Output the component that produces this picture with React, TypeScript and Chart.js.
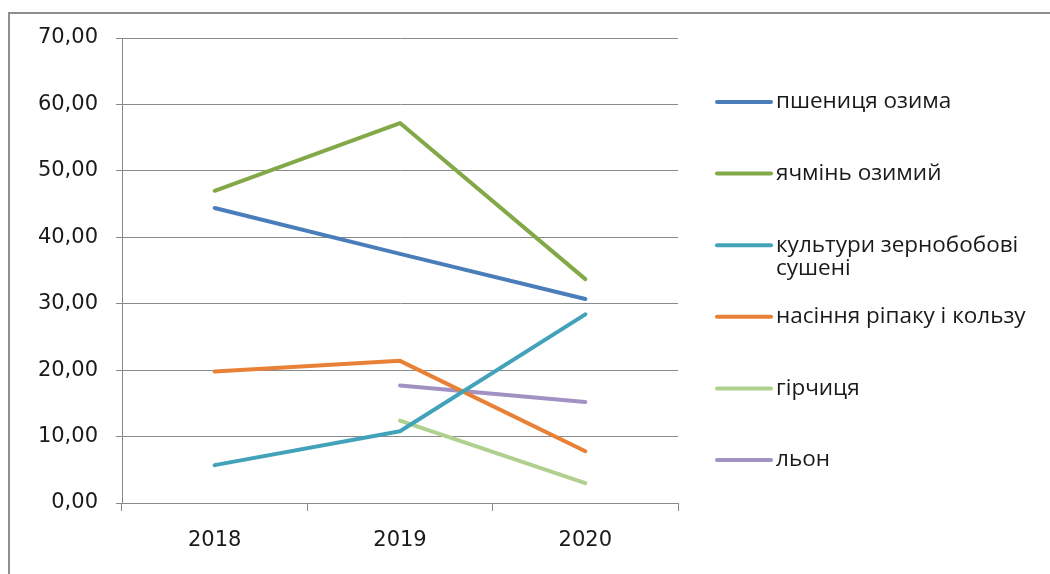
import React, { useEffect, useRef } from "react";
import { Chart, registerables } from "chart.js";

Chart.register(...registerables);

const years = ["2018", "2019", "2020"];
const seriesNames = [
  "пшениця озима",
  "ячмінь озимий",
  "культури зернобобові\nсушені",
  "насіння ріпаку і кользу",
  "гірчиця",
  "льон",
];
const wheat = [44.4, 37.5, 30.7];
const barley = [47.0, 57.2, 33.7];
const legumes = [5.7, 10.8, 28.4];
const rapeseed = [19.8, 21.4, 7.8];
const mustard = [null, 12.4, 3.0];
const flax = [null, 17.7, 15.2];
const seriesColors = ["#4A7EBB", "#83A847", "#42A2BA", "#E88036", "#B0D08F", "#A292C4"];
const yTicks = [0, 10, 20, 30, 40, 50, 60, 70];

const LEGEND_FONT = "'Open Sans', 'DejaVu Sans', sans-serif";
const TICK_FONT = "'DejaVu Sans', 'Open Sans', sans-serif";

const legendPlugin = {
  id: "sideLegend",
  afterDraw(chart: any) {
    const ctx = chart.ctx;
    const startY = 102;
    const gap = 71.6;
    const lineX1 = 717;
    const lineX2 = 771;
    const textX = 776;
    ctx.save();
    chart.data.datasets.forEach((ds: any, i: number) => {
      const y = startY + i * gap;
      ctx.strokeStyle = ds.borderColor;
      ctx.lineWidth = 4;
      ctx.lineCap = "round";
      ctx.beginPath();
      ctx.moveTo(lineX1, y);
      ctx.lineTo(lineX2, y);
      ctx.stroke();
      ctx.fillStyle = "#1a1a1a";
      ctx.font = `22.5px ${LEGEND_FONT}`;
      ctx.textBaseline = "middle";
      ctx.textAlign = "left";
      String(ds.label)
        .split("\n")
        .forEach((line: string, j: number) => {
          ctx.fillText(line, textX, y + j * 23);
        });
    });
    ctx.restore();
  },
};

export default function App() {
  const ref = useRef<HTMLCanvasElement | null>(null);

  useEffect(() => {
    if (!ref.current) return;
    const data = [wheat, barley, legumes, rapeseed, mustard, flax];
    const chart = new Chart(ref.current, {
      type: "line",
      data: {
        labels: years,
        datasets: data.map((d, i) => ({
          label: seriesNames[i],
          data: d,
          borderColor: seriesColors[i],
          backgroundColor: seriesColors[i],
          borderWidth: 4,
          borderCapStyle: "round",
          borderJoinStyle: "round",
          pointRadius: 0,
          pointHoverRadius: 0,
          tension: 0,
          spanGaps: false,
        })),
      },
      options: {
        animation: false,
        responsive: false,
        maintainAspectRatio: false,
        layout: { padding: { left: 0, right: 372, top: 38, bottom: 0 } },
        plugins: {
          legend: { display: false },
          tooltip: { enabled: false },
        },
        scales: {
          x: {
            offset: true,
            grid: {
              offset: true,
              drawOnChartArea: false,
              color: "#8a8a8a",
              tickLength: 8,
            },
            border: { color: "#8a8a8a", width: 1 },
            ticks: {
              color: "#1a1a1a",
              font: { family: TICK_FONT, size: 21 },
              padding: 17,
              maxRotation: 0,
            },
            afterFit: (s: any) => {
              s.height = 71;
            },
          },
          y: {
            min: 0,
            max: 70,
            afterBuildTicks: (s: any) => {
              s.ticks = yTicks.map((v) => ({ value: v }));
            },
            grid: { color: "#8a8a8a", tickLength: 6 },
            border: { color: "#8a8a8a", width: 1 },
            ticks: {
              color: "#1a1a1a",
              font: { family: TICK_FONT, size: 21 },
              padding: 18,
              callback: (v: any) => Number(v).toFixed(2).replace(".", ","),
            },
            afterFit: (s: any) => {
              s.width = 122;
            },
          },
        },
      },
      plugins: [legendPlugin],
    });
    return () => chart.destroy();
  }, []);

  return (
    <div style={{ position: "absolute", left: 0, top: 0, width: 1050, height: 574, overflow: "hidden", background: "#fff" }}>
      <div
        style={{
          position: "absolute",
          left: 8,
          top: 12,
          width: 1200,
          height: 700,
          borderTop: "2px solid #8e8e8e",
          borderLeft: "2px solid #8e8e8e",
        }}
      />
      <canvas ref={ref} width={1050} height={574} style={{ position: "absolute", left: 0, top: 0 }} />
    </div>
  );
}
